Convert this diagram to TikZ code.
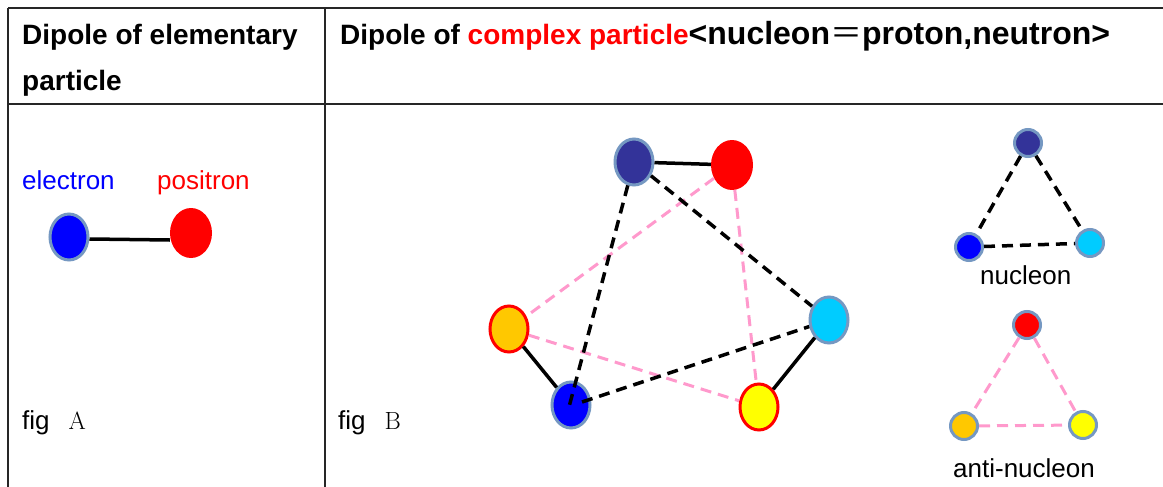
\documentclass[tikz,border=0pt]{standalone}
\usepackage[no-math]{fontspec}
\setmainfont{Liberation Sans}
\newfontfamily\cjkfont{Noto Sans CJK SC}
\usetikzlibrary{shapes.geometric}
\definecolor{navyc}{HTML}{333399}
\definecolor{orangec}{HTML}{FFC800}
\definecolor{cyanc}{HTML}{00CCFF}
\definecolor{yellowc}{HTML}{FFFF00}
\definecolor{pinkc}{HTML}{FF99CC}
\definecolor{rimc}{RGB}{117,152,194}
\tikzset{
  rule/.style={line width=1.3pt, black!85},
  txt/.style={inner sep=0pt, anchor=base west, font=\fontsize{26}{30}\selectfont},
  head/.style={inner sep=0pt, anchor=base west, font=\fontsize{28}{32}\selectfont\bfseries},
  big/.style={ellipse, inner sep=0pt, minimum width=38pt, minimum height=46pt},
  rimblue/.style={big, draw=rimc, line width=3pt},
  rimred/.style={big, draw=red, line width=3pt},
  bare/.style={ellipse, inner sep=0pt, minimum width=42pt, minimum height=50pt},
  small/.style={circle, inner sep=0pt, minimum size=27pt, draw=rimc, line width=3pt},
  bond/.style={line width=3.5pt, black},
  bdash/.style={line width=3.5pt, black, dash pattern=on 11pt off 7pt},
  pdash/.style={line width=3pt, pinkc, dash pattern=on 11pt off 7pt},
}
\begin{document}
\begin{tikzpicture}[x=1pt, y=-1pt]
\useasboundingbox (0,0) rectangle (1163,487);
% table rules
\draw[rule] (8,8) -- (1163,8);
\draw[rule] (8,104) -- (1163,104);
\draw[rule] (8,8) -- (8,487);
\draw[rule] (325,8) -- (325,487);
% header
\node[head] (h1) at (22,45) {Dipole of elementary};
\node[head] (h2) at (22,91) {particle};
\node[head] (h3) at (340,45) {Dipole of \textcolor{red}{complex particle}{\fontsize{32}{34}\selectfont <nucleon{\cjkfont\mdseries ＝}proton,neutron>}};
% fig A
\node[txt, text=blue] (le) at (22,189) {electron};
\node[txt, text=red] (lp) at (157,189) {positron};
\node[rimblue, fill=blue] (e) at (69,237) {};
\node[bare, fill=red] (p) at (191,233) {};
\draw[bond] ([yshift=-2pt]e.east) -- ([yshift=-7pt]p.west);
\node[txt] (fa) at (22,429) {fig\hspace{19pt}$\mathrm{A}$};
% fig B
\node[txt] (fb) at (338,429) {fig\hspace{19pt}$\mathrm{B}$};
\node[rimblue, fill=navyc] (n1) at (634,162) {};
\node[bare, fill=red] (r1) at (732,165) {};
\node[rimred, fill=orangec] (o1) at (509,329) {};
\node[rimblue, fill=blue] (b1) at (571,405) {};
\node[rimblue, fill=cyanc] (c1) at (829,320) {};
\node[rimred, fill=yellowc] (y1) at (759,407) {};
\draw[bond] (n1) -- (r1);
\draw[bond] (o1) -- (b1);
\draw[bond] (c1) -- (y1);
\draw[pdash] (r1) -- (o1);
\draw[pdash] (r1) -- (y1);
\draw[pdash] (o1) -- (y1);
\draw[bdash] (n1) -- ([xshift=-2pt,yshift=-2pt]b1.center);
\draw[bdash] (n1) -- (c1);
\draw[bdash] ([xshift=11pt,yshift=3pt]b1.center) -- (c1);
% nucleon
\node[small, fill=navyc] (n2) at (1028,143) {};
\node[small, fill=blue] (b2) at (969,247) {};
\node[small, fill=cyanc] (c2) at (1090,243) {};
\draw[bdash] (n2) -- (b2);
\draw[bdash] (n2) -- (c2);
\draw[bdash] (b2) -- (c2);
\node[txt] (ln) at (980,284) {nucleon};
% anti-nucleon
\node[small, fill=red] (r2) at (1027,325) {};
\node[small, fill=orangec] (o2) at (964,426) {};
\node[small, fill=yellowc] (y2) at (1083,425) {};
\draw[pdash] (r2) -- (o2);
\draw[pdash] (r2) -- (y2);
\draw[pdash] (o2) -- (y2);
\node[txt] (la) at (953,477) {anti-nucleon};
\end{tikzpicture}
\end{document}
